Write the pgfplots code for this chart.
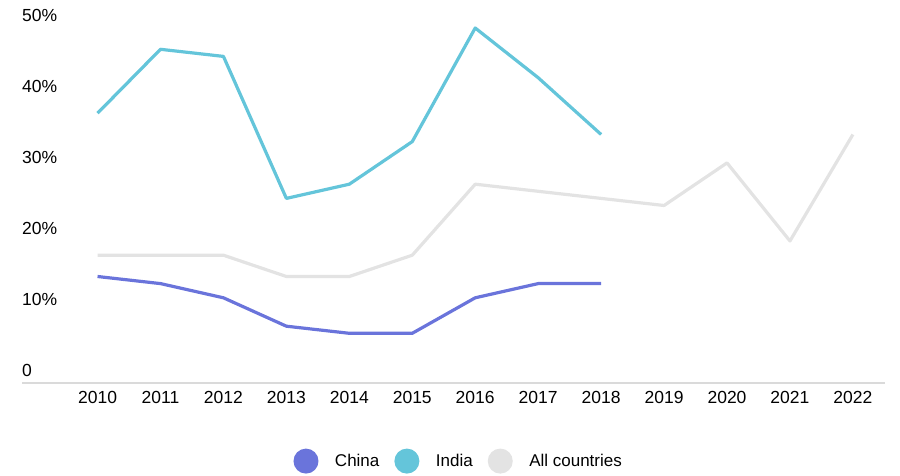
\documentclass[border=0pt]{standalone}
\usepackage{pgfplots}
\pgfplotsset{compat=1.18}
\usepackage{fontspec}
\setmainfont{Liberation Sans}
\definecolor{china}{HTML}{6A74DB}
\definecolor{india}{HTML}{64C5DA}
\definecolor{allc}{HTML}{E3E3E3}
\definecolor{axisgray}{HTML}{DADADA}
\begin{document}
\begin{tikzpicture}
\useasboundingbox (0pt,0pt) rectangle (900pt,476pt);
\begin{axis}[
  at={(22pt,93pt)}, anchor=south west,
  scale only axis, width=863pt, height=355pt,
  xmin=2008.8, xmax=2022.51, ymin=0, ymax=50,
  clip=false,
  axis x line*=bottom, axis y line*=left,
  x axis line style={-, draw=axisgray, line width=1.5pt},
  y axis line style={draw=none},
  major tick length=0pt,
  /pgf/number format/assume math mode=true,
  xtick={2010,2011,...,2022},
  xticklabel style={/pgf/number format/1000 sep={}, font=\fontsize{17.5}{20}\selectfont, yshift=-5pt},
  ytick={0,10,20,30,40,50},
  yticklabels={0,10\%,20\%,30\%,40\%,50\%},
  yticklabel style={anchor=south west, inner sep=0pt, yshift=6pt, font=\fontsize{17.5}{20}\selectfont},
  legend style={at={(0.506,-0.22)}, anchor=center, draw=none, legend columns=-1,
    font=\fontsize{17}{20}\selectfont,
    /tikz/every even column/.append style={column sep=13pt}},
  legend image code/.code={\fill[draw=none] (0pt,0pt) circle (12.5pt); \path[draw=none] (-12.5pt,0pt) -- (27pt,0pt);},
]
\addplot[china, line width=3.2pt, line join=round, no markers] coordinates {(2010,15) (2011,14) (2012,12) (2013,8) (2014,7) (2015,7) (2016,12) (2017,14) (2018,14)};
\addlegendentry{China}
\addplot[india, line width=3.2pt, line join=round, no markers] coordinates {(2010,38) (2011,47) (2012,46) (2013,26) (2014,28) (2015,34) (2016,50) (2017,43) (2018,35)};
\addlegendentry{India}
\addplot[allc, line width=3.2pt, line join=round, no markers] coordinates {(2010,18) (2011,18) (2012,18) (2013,15) (2014,15) (2015,18) (2016,28) (2017,27) (2018,26) (2019,25) (2020,31) (2021,20) (2022,35)};
\addlegendentry{All countries}
\end{axis}
\end{tikzpicture}
\end{document}
